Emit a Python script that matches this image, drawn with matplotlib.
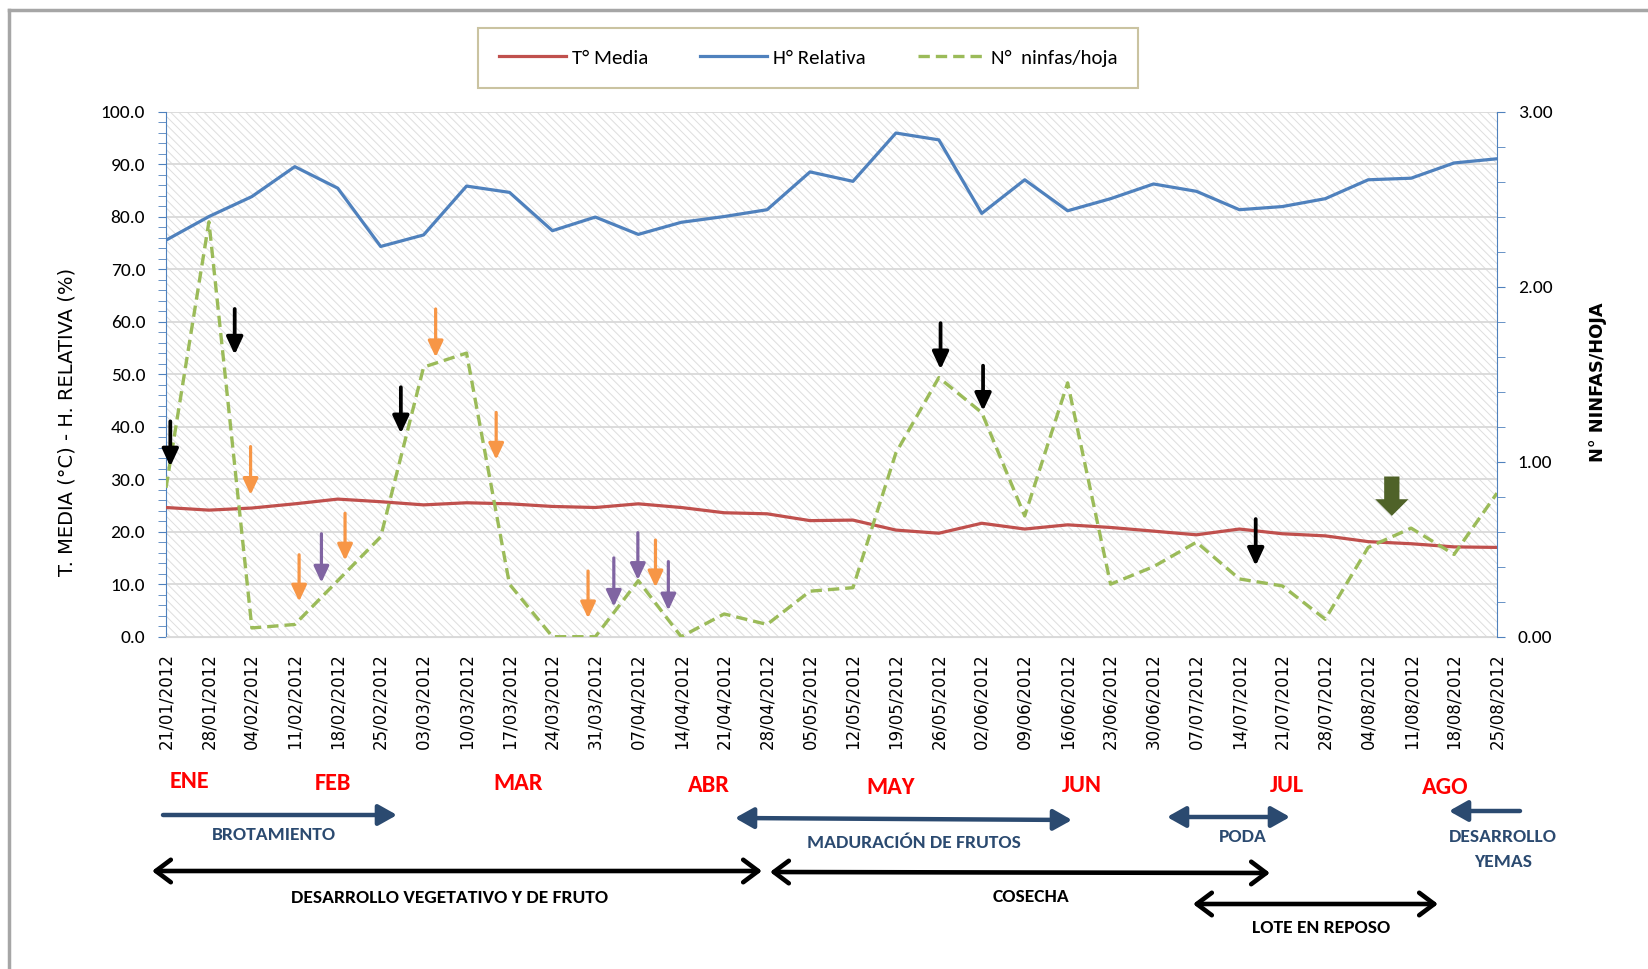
import matplotlib
matplotlib.use('Agg')
import matplotlib.pyplot as plt
from matplotlib import font_manager
from matplotlib.patches import Rectangle, FancyArrowPatch
from matplotlib.lines import Line2D
from matplotlib.ticker import MultipleLocator, FormatStrFormatter

# ---------------- datos ----------------
fechas = ['21/01/2012', '28/01/2012', '04/02/2012', '11/02/2012', '18/02/2012', '25/02/2012',
          '03/03/2012', '10/03/2012', '17/03/2012', '24/03/2012', '31/03/2012', '07/04/2012',
          '14/04/2012', '21/04/2012', '28/04/2012', '05/05/2012', '12/05/2012', '19/05/2012',
          '26/05/2012', '02/06/2012', '09/06/2012', '16/06/2012', '23/06/2012', '30/06/2012',
          '07/07/2012', '14/07/2012', '21/07/2012', '28/07/2012', '04/08/2012', '11/08/2012',
          '18/08/2012', '25/08/2012']

t_media = [24.6, 24.1, 24.5, 25.3, 26.2, 25.7, 25.1, 25.5, 25.3, 24.8, 24.6, 25.3,
           24.6, 23.6, 23.4, 22.1, 22.2, 20.3, 19.7, 21.6, 20.5, 21.3, 20.8, 20.1,
           19.4, 20.5, 19.6, 19.2, 18.1, 17.7, 17.1, 17.0]

h_relativa = [75.5, 80.0, 83.8, 89.5, 85.4, 74.3, 76.5, 85.8, 84.6, 77.3, 79.9, 76.6,
              78.9, 80.0, 81.3, 88.5, 86.7, 95.9, 94.6, 80.6, 87.0, 81.1, 83.4, 86.2,
              84.8, 81.3, 81.9, 83.4, 87.0, 87.3, 90.2, 91.0]

ninfas = [0.85, 2.37, 0.05, 0.07, 0.32, 0.57, 1.54, 1.62, 0.30, 0.00, 0.00, 0.32,
          0.00, 0.13, 0.07, 0.26, 0.28, 1.05, 1.48, 1.28, 0.69, 1.45, 0.30, 0.40,
          0.54, 0.33, 0.29, 0.10, 0.51, 0.62, 0.47, 0.82]

# flechas de aplicaciones: (posicion en eje x, y cola, y punta) en unidades del eje izquierdo
flechas_negras = [(0.10, 41.0, 32.4), (1.60, 62.4, 53.7), (5.47, 47.5, 38.7),
                  (18.04, 59.7, 50.9), (19.03, 51.6, 43.0), (25.38, 22.4, 13.5)]
flechas_naranja = [(1.97, 36.2, 27.0), (3.10, 15.6, 6.7), (4.17, 23.5, 14.5),
                   (6.28, 62.4, 53.2), (7.69, 42.7, 33.7), (9.83, 12.5, 3.5), (11.40, 18.4, 9.4)]
flechas_moradas = [(3.62, 19.6, 10.3), (10.43, 15.0, 5.7), (10.99, 19.8, 10.8), (11.70, 14.3, 5.0)]
flecha_verde = (28.55, 30.5, 23.0)

meses = ['ENE', 'FEB', 'MAR', 'ABR', 'MAY', 'JUN', 'JUL', 'AGO']
meses_px = [(189, 782), (333, 783), (518, 783), (709, 786), (891, 788), (1082, 786), (1287, 786), (1445, 787)]

# ---------------- fuentes ----------------
nombres = {f.name for f in font_manager.fontManager.ttflist}
def fuente(*opciones):
    for o in opciones:
        if o in nombres:
            return o
    return 'DejaVu Sans'
CAL = fuente('Carlito', 'Lato', 'Open Sans')

W, H = 1648, 969
fig = plt.figure(figsize=(W / 100, H / 100), dpi=100)

def fp(x, y):
    return (x / W, 1 - y / H)

# marco del grafico
fig.add_artist(Line2D([9 / W, 1], [1 - 10 / H, 1 - 10 / H], color='#A6A6A6', lw=2.5, transform=fig.transFigure))
fig.add_artist(Line2D([9 / W, 9 / W], [0, 1 - 10 / H], color='#A6A6A6', lw=2.5, transform=fig.transFigure))

x0, x1, yb, yt = 166, 1497, 636.7, 111.5
ax = fig.add_axes([x0 / W, 1 - yb / H, (x1 - x0) / W, (yb - yt) / H])
ax2 = ax.twinx()

# fondo rayado
ax.set_facecolor('white')
plt.rcParams['hatch.linewidth'] = 0.7
ax.add_patch(Rectangle((0, 0), 1, 1, transform=ax.transAxes, facecolor='white',
                       edgecolor='#DEDEDE', hatch='\\\\\\\\', lw=0, zorder=0))
ax.set_axisbelow(True)
ax.yaxis.grid(True, which='major', color='#D9D9D9', lw=1.3)

xs = list(range(len(fechas)))
l1, = ax.plot(xs, t_media, color='#C0504D', lw=2.3, label='T° Media', zorder=3)
l2, = ax.plot(xs, h_relativa, color='#4F81BD', lw=2.3, label='H° Relativa', zorder=3)
l3, = ax2.plot(xs, ninfas, color='#9BBB59', lw=2.4, dashes=(3.4, 1.8), label='N°  ninfas/hoja', zorder=3)

ax.set_xlim(0, len(fechas) - 1)
ax.set_ylim(0, 100)
ax2.set_ylim(0, 3)

ax.yaxis.set_major_locator(MultipleLocator(10))
ax.yaxis.set_minor_locator(MultipleLocator(2))
ax.yaxis.set_major_formatter(FormatStrFormatter('%.1f'))
ax2.yaxis.set_major_locator(MultipleLocator(1))
ax2.yaxis.set_minor_locator(MultipleLocator(0.2))
ax2.yaxis.set_major_formatter(FormatStrFormatter('%.2f'))

ax.set_xticks(xs)
ax.set_xticklabels(fechas, rotation=90, fontsize=12, family='DejaVu Sans', va='top')
ax.tick_params(axis='x', length=0, pad=12)
ax.tick_params(axis='y', which='both', direction='out', length=6, color='#4F81BD', pad=9,
               labelsize=14)
ax2.tick_params(axis='y', which='both', direction='out', length=6, color='#4F81BD', pad=9,
                labelsize=14)
for lab in ax.get_yticklabels() + ax2.get_yticklabels():
    lab.set_family(CAL)

for s in ['top', 'right']:
    ax.spines[s].set_visible(False)
for s in ['top', 'left', 'bottom']:
    ax2.spines[s].set_visible(False)
ax.spines['left'].set_color('#4F81BD')
ax.spines['bottom'].set_color('#D9D9D9')
ax2.spines['right'].set_color('#4F81BD')

fig.text(*fp(67, 422), 'T. MEDIA (°C) - H. RELATIVA (%)', rotation=90, ha='center', va='center',
         fontsize=14, family='DejaVu Sans')
fig.text(*fp(1598, 382), 'N° NINFAS/HOJA', rotation=90, ha='center', va='center',
         fontsize=12.8, family='DejaVu Sans', weight='bold')

# leyenda
leg = ax2.legend(handles=[l1, l2, l3], loc='center', bbox_to_anchor=fp(808, 58),
                 bbox_transform=fig.transFigure, ncol=3, frameon=True, fancybox=False,
                 prop={'family': CAL, 'size': 15}, handlelength=3.2, handletextpad=0.3,
                 columnspacing=2.5, borderpad=1.0)
leg.get_frame().set_edgecolor('#BDB58A')
leg.get_frame().set_linewidth(1.5)

# flechas sobre la grafica
def flecha(x, y0, y1, color, lw, ms):
    ax2.annotate('', xy=(x, y1), xytext=(x, y0), xycoords=ax.transData, textcoords=ax.transData,
                 arrowprops=dict(arrowstyle='-|>,head_length=0.75,head_width=0.35', color=color,
                                 lw=lw, mutation_scale=ms, shrinkA=0, shrinkB=0), zorder=5)

for x, a, b in flechas_negras:
    flecha(x, a, b, 'black', 2.7, 14)
for x, a, b in flechas_naranja:
    flecha(x, a, b, '#F79646', 2.3, 13)
for x, a, b in flechas_moradas:
    flecha(x, a, b, '#8064A2', 2.3, 13)
ax2.annotate('', xy=(flecha_verde[0], flecha_verde[2]), xytext=(flecha_verde[0], flecha_verde[1]),
             xycoords=ax.transData, textcoords=ax.transData,
             arrowprops=dict(arrowstyle='simple,head_length=0.6,head_width=1.2,tail_width=0.55',
                             fc='#4F6228', ec='none', lw=0, mutation_scale=20, shrinkA=0, shrinkB=0),
             zorder=5)

# meses
for m, (px, py) in zip(meses, meses_px):
    fig.text(*fp(px, py), m, ha='center', va='center', color='#FF0000', fontsize=17.5,
             family=CAL, weight='bold')

# fases del cultivo
AZUL = '#2B4A70'
def flecha_fig(p0, p1, estilo, color, lw, ms):
    fig.add_artist(FancyArrowPatch(fp(*p0), fp(*p1), transform=fig.transFigure, arrowstyle=estilo,
                                   color=color, lw=lw, mutation_scale=ms, shrinkA=0, shrinkB=0))

est_azul = '-|>,head_length=0.8,head_width=0.45'
est_azul2 = '<|-|>,head_length=0.8,head_width=0.45'
flecha_fig((163, 815), (397, 815), est_azul, AZUL, 3.2, 14)
flecha_fig((735, 818), (1072, 820), est_azul2, AZUL, 3.2, 14)
flecha_fig((1167, 817), (1290, 817), est_azul2, AZUL, 3.2, 14)
flecha_fig((1520, 811), (1449, 811), est_azul, AZUL, 3.2, 14)

est_negro = '<->,head_length=0.6,head_width=0.45'
flecha_fig((152, 871), (762, 871), est_negro, 'black', 3.3, 18)
flecha_fig((770, 872), (1270, 873), est_negro, 'black', 3.3, 18)
flecha_fig((1193, 904), (1438, 904), est_negro, 'black', 3.3, 18)

etiquetas = [('BROTAMIENTO', 274, 835, AZUL), ('MADURACIÓN DE FRUTOS', 914, 843, AZUL),
             ('PODA', 1243, 837, AZUL), ('DESARROLLO', 1503, 837, AZUL), ('YEMAS', 1503, 862, AZUL),
             ('DESARROLLO VEGETATIVO Y DE FRUTO', 450, 898, 'black'),
             ('COSECHA', 1031, 897, 'black'), ('LOTE EN REPOSO', 1321, 928, 'black')]
for txt, px, py, c in etiquetas:
    fig.text(*fp(px, py), txt, ha='center', va='center', color=c, fontsize=14, family=CAL,
             weight='bold')

fig.savefig('out.png', dpi=100)
